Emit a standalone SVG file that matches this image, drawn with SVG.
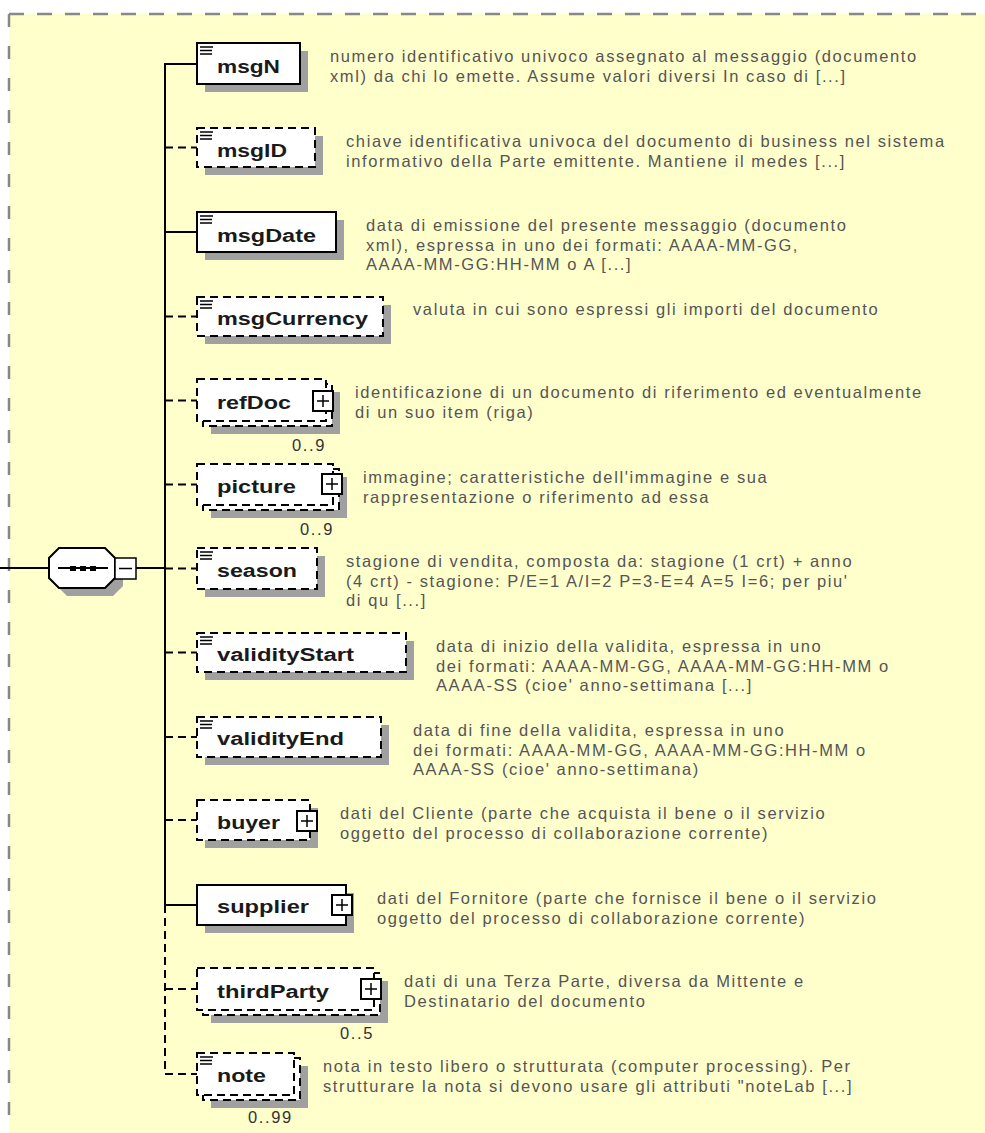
<svg xmlns="http://www.w3.org/2000/svg" width="985" height="1133" viewBox="0 0 985 1133">
<defs>
<style>
.shadow{fill:#a0a0a0}
.box{fill:#fff;stroke:#000;stroke-width:2}
.opt{stroke-dasharray:8 5}
.lbl{font-family:"Liberation Sans",Arial,sans-serif;font-weight:bold;font-size:18px;fill:#1a1a1a}
.desc{font-family:"Liberation Sans",Arial,sans-serif;font-size:16.5px;letter-spacing:1.6px;fill:#555}
.occ{font-family:"Liberation Sans",Arial,sans-serif;font-size:16.5px;letter-spacing:1.6px;fill:#333}
.icon{stroke:#000;stroke-width:1.5;fill:none}
.conn{stroke:#000;stroke-width:2;fill:none}
.dconn{stroke-dasharray:8 5}
.plus{fill:#fff;stroke:#000;stroke-width:2}
.pl{stroke:#000;stroke-width:1.5;fill:none}
</style>
</defs>
<rect x="0" y="0" width="985" height="1133" fill="#fff"/>
<rect x="9" y="14" width="976" height="1119" fill="#ffffcc"/>
<path d="M9,14 H985" stroke="#888" stroke-width="2.5" fill="none" stroke-dasharray="15 13"/>
<path d="M9,14 V1133" stroke="#888" stroke-width="2.5" fill="none" stroke-dasharray="13 19"/>

<g id="connectors">
<path class="conn" d="M0,568 H49 M136,568 H165"/>
<path class="conn" d="M197,64 H165 V905 H197"/>
<path class="conn" d="M165,232 H197"/>
<path class="conn dconn" d="M165,905 V1074 H197"/>
<path class="conn dconn" d="M165,147.5 H197 M165,316.5 H197 M165,400.5 H197 M165,484.5 H197 M165,568.5 H197 M165,652.5 H197 M165,737 H197 M165,820 H197 M165,989 H197"/>
</g>

<g id="node-sequence">
<path class="shadow" d="M67,556 H113 L123,566 V586 L113,596 H67 L57,586 V566 Z"/>
<path class="box" d="M59,548 H105 L115,558 V578 L105,588 H59 L49,578 V558 Z"/>
<path class="conn" d="M58,568 H108"/>
<rect x="70" y="566" width="6" height="5" fill="#000"/>
<rect x="80" y="566" width="6" height="5" fill="#000"/>
<rect x="90" y="566" width="6" height="5" fill="#000"/>
<rect x="115" y="558" width="21" height="21" fill="#fff" stroke="#000" stroke-width="1.5"/>
<path class="pl" d="M119,568.5 H132"/>
</g>

<g id="node-msgN">
<rect class="shadow" x="205" y="51" width="103" height="41"/>
<rect class="box" x="197" y="43" width="103" height="41"/>
<path class="icon" d="M200,47 H213 M200,50.5 H212 M200,54 H212"/>
<text class="lbl" x="217" y="73" textLength="63" lengthAdjust="spacingAndGlyphs">msgN</text>
<text class="desc" x="330" y="62">numero identificativo univoco assegnato al messaggio (documento<tspan x="330" dy="19.5">xml) da chi lo emette. Assume valori diversi In caso di [...]</tspan></text>
</g>

<g id="node-msgID">
<rect class="shadow" x="205" y="136" width="118" height="39"/>
<rect class="box opt" x="197" y="128" width="118" height="39"/>
<path class="icon" d="M200,132 H213 M200,135.5 H212 M200,139 H212"/>
<text class="lbl" x="217" y="157" textLength="70" lengthAdjust="spacingAndGlyphs">msgID</text>
<text class="desc" x="346" y="147">chiave identificativa univoca del documento di business nel sistema<tspan x="346" dy="19.5">informativo della Parte emittente. Mantiene il medes [...]</tspan></text>
</g>

<g id="node-msgDate">
<rect class="shadow" x="205" y="220" width="139" height="40"/>
<rect class="box" x="197" y="212" width="139" height="40"/>
<path class="icon" d="M200,216 H213 M200,219.5 H212 M200,223 H212"/>
<text class="lbl" x="217" y="242" textLength="99" lengthAdjust="spacingAndGlyphs">msgDate</text>
<text class="desc" x="366" y="231">data di emissione del presente messaggio (documento<tspan x="366" dy="19.5">xml), espressa in uno dei formati: AAAA-MM-GG,</tspan><tspan x="366" dy="19.5">AAAA-MM-GG:HH-MM o A [...]</tspan></text>
</g>

<g id="node-msgCurrency">
<rect class="shadow" x="205" y="305" width="186" height="39"/>
<rect class="box opt" x="197" y="297" width="186" height="39"/>
<path class="icon" d="M200,301 H213 M200,304.5 H212 M200,308 H212"/>
<text class="lbl" x="217" y="325" textLength="151" lengthAdjust="spacingAndGlyphs">msgCurrency</text>
<text class="desc" x="413" y="315">valuta in cui sono espressi gli importi del documento</text>
</g>

<g id="node-refDoc">
<rect class="shadow" x="211" y="392" width="129" height="42"/>
<rect class="box opt" x="203" y="384" width="129" height="42"/>
<rect class="box opt" x="197" y="379" width="129" height="42"/>
<text class="lbl" x="217" y="409" textLength="74" lengthAdjust="spacingAndGlyphs">refDoc</text>
<rect class="plus" x="313" y="391" width="20" height="20"/>
<path class="pl" d="M317,401 H329 M323,395 V407"/>
<text class="occ" x="292" y="451">0..9</text>
<text class="desc" x="355" y="398">identificazione di un documento di riferimento ed eventualmente<tspan x="355" dy="19.5">di un suo item (riga)</tspan></text>
</g>

<g id="node-picture">
<rect class="shadow" x="211" y="477" width="136" height="41"/>
<rect class="box opt" x="203" y="469" width="136" height="41"/>
<rect class="box opt" x="197" y="464" width="136" height="41"/>
<text class="lbl" x="217" y="493" textLength="79" lengthAdjust="spacingAndGlyphs">picture</text>
<rect class="plus" x="322" y="474" width="20" height="20"/>
<path class="pl" d="M326,484 H338 M332,478 V490"/>
<text class="occ" x="300" y="535">0..9</text>
<text class="desc" x="363" y="483">immagine; caratteristiche dell'immagine e sua<tspan x="363" dy="19.5">rappresentazione o riferimento ad essa</tspan></text>
</g>

<g id="node-season">
<rect class="shadow" x="205" y="556" width="120" height="41"/>
<rect class="box opt" x="197" y="548" width="120" height="41"/>
<path class="icon" d="M200,552 H213 M200,555.5 H212 M200,559 H212"/>
<text class="lbl" x="217" y="577" textLength="80" lengthAdjust="spacingAndGlyphs">season</text>
<text class="desc" x="346" y="567">stagione di vendita, composta da: stagione (1 crt) + anno<tspan x="346" dy="19.5">(4 crt) - stagione: P/E=1 A/I=2 P=3-E=4 A=5 I=6; per piu'</tspan><tspan x="346" dy="19.5">di qu [...]</tspan></text>
</g>

<g id="node-validityStart">
<rect class="shadow" x="205" y="641" width="209" height="39"/>
<rect class="box opt" x="197" y="633" width="209" height="39"/>
<path class="icon" d="M200,637 H213 M200,640.5 H212 M200,644 H212"/>
<text class="lbl" x="217" y="661" textLength="137" lengthAdjust="spacingAndGlyphs">validityStart</text>
<text class="desc" x="436" y="652">data di inizio della validita, espressa in uno<tspan x="436" dy="19.5">dei formati: AAAA-MM-GG, AAAA-MM-GG:HH-MM o</tspan><tspan x="436" dy="19.5">AAAA-SS (cioe' anno-settimana [...]</tspan></text>
</g>

<g id="node-validityEnd">
<rect class="shadow" x="205" y="725" width="184" height="40"/>
<rect class="box opt" x="197" y="717" width="184" height="40"/>
<path class="icon" d="M200,721 H213 M200,724.5 H212 M200,728 H212"/>
<text class="lbl" x="217" y="745" textLength="127" lengthAdjust="spacingAndGlyphs">validityEnd</text>
<text class="desc" x="413" y="736">data di fine della validita, espressa in uno<tspan x="413" dy="19.5">dei formati: AAAA-MM-GG, AAAA-MM-GG:HH-MM o</tspan><tspan x="413" dy="19.5">AAAA-SS (cioe' anno-settimana)</tspan></text>
</g>

<g id="node-buyer">
<rect class="shadow" x="205" y="808" width="113" height="40"/>
<rect class="box opt" x="197" y="800" width="113" height="40"/>
<text class="lbl" x="217" y="829" textLength="63" lengthAdjust="spacingAndGlyphs">buyer</text>
<rect class="plus" x="297" y="811" width="20" height="20"/>
<path class="pl" d="M301,821 H313 M307,815 V827"/>
<text class="desc" x="340" y="819">dati del Cliente (parte che acquista il bene o il servizio<tspan x="340" dy="19.5">oggetto del processo di collaborazione corrente)</tspan></text>
</g>

<g id="node-supplier">
<rect class="shadow" x="205" y="893" width="149" height="40"/>
<rect class="box" x="197" y="885" width="149" height="40"/>
<text class="lbl" x="217" y="913" textLength="92" lengthAdjust="spacingAndGlyphs">supplier</text>
<rect class="plus" x="332" y="895" width="20" height="20"/>
<path class="pl" d="M336,905 H348 M342,899 V911"/>
<text class="desc" x="377" y="904">dati del Fornitore (parte che fornisce il bene o il servizio<tspan x="377" dy="19.5">oggetto del processo di collaborazione corrente)</tspan></text>
</g>

<g id="node-thirdParty">
<rect class="shadow" x="211" y="981" width="177" height="42"/>
<rect class="box opt" x="203" y="973" width="177" height="42"/>
<rect class="box opt" x="197" y="968" width="177" height="42"/>
<text class="lbl" x="217" y="998" textLength="112" lengthAdjust="spacingAndGlyphs">thirdParty</text>
<rect class="plus" x="361" y="979" width="20" height="20"/>
<path class="pl" d="M365,989 H377 M371,983 V995"/>
<text class="occ" x="340" y="1039">0..5</text>
<text class="desc" x="404" y="987">dati di una Terza Parte, diversa da Mittente e<tspan x="404" dy="19.5">Destinatario del documento</tspan></text>
</g>

<g id="node-note">
<rect class="shadow" x="211" y="1066" width="97" height="42"/>
<rect class="box opt" x="203" y="1058" width="97" height="42"/>
<rect class="box opt" x="197" y="1053" width="97" height="42"/>
<path class="icon" d="M200,1057 H213 M200,1060.5 H212 M200,1064 H212"/>
<text class="lbl" x="217" y="1082" textLength="49" lengthAdjust="spacingAndGlyphs">note</text>
<text class="occ" x="248" y="1123">0..99</text>
<text class="desc" x="323" y="1072">nota in testo libero o strutturata (computer processing). Per<tspan x="323" dy="19.5">strutturare la nota si devono usare gli attributi "noteLab [...]</tspan></text>
</g>
</svg>
